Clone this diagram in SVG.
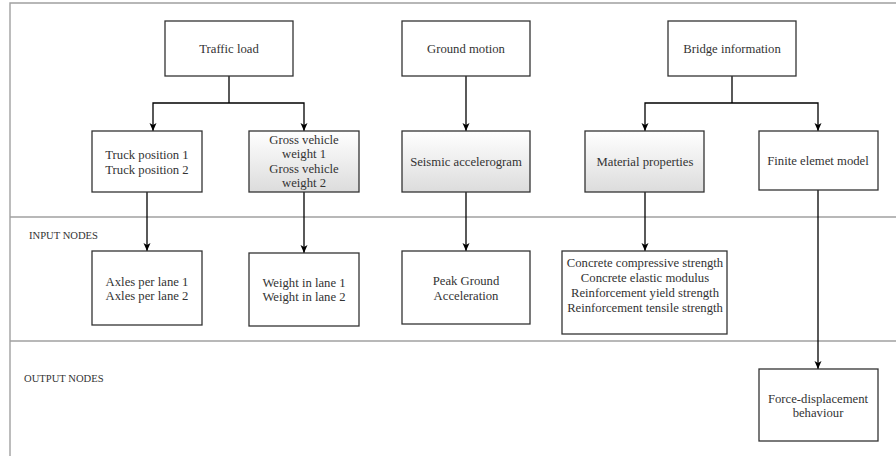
<svg xmlns="http://www.w3.org/2000/svg" width="896" height="456" viewBox="0 0 896 456">
<style>
.frame{fill:none;stroke:#a0a0a0;stroke-width:1.4}
.box{fill:#fff;stroke:#333;stroke-width:1.3}
.grad{fill:url(#g);stroke:#333;stroke-width:1.3}
.t{font-family:"Liberation Serif","Times New Roman",serif;font-size:12.7px;fill:#333;text-anchor:middle}
.lbl{font-family:"Liberation Serif","Times New Roman",serif;font-size:10.6px;fill:#333}
.c{fill:none;stroke:#000;stroke-width:1.3;marker-end:url(#a)}
.cn{fill:none;stroke:#000;stroke-width:1.3}
</style>
<defs>
<linearGradient id="g" x1="0" y1="0" x2="0" y2="1">
<stop offset="0" stop-color="#ffffff"/>
<stop offset="1" stop-color="#dcdcdc"/>
</linearGradient>
<marker id="a" markerUnits="userSpaceOnUse" markerWidth="10" markerHeight="10" viewBox="0 0 10 10" refX="9" refY="5" orient="auto">
<path d="M1,1.5 L9,5 L1,8.5 L3,5 Z" fill="#000"/>
</marker>
</defs>
<rect width="896" height="456" fill="#fff"/>
<g id="lanes">
<path class="frame" d="M896,3 H10 V456"/>
<path class="frame" d="M10,217 H896"/>
<path class="frame" d="M10,341 H896"/>
<text class="lbl" x="29" y="239">INPUT NODES</text>
<text class="lbl" x="24" y="382">OUTPUT NODES</text>
</g>
<g id="connectors">
<path class="cn" d="M229,76 V103"/>
<path class="c" d="M229,103 H153 V131"/>
<path class="c" d="M229,103 H304 V131"/>
<path class="c" d="M466,76 V131"/>
<path class="cn" d="M732,76 V103"/>
<path class="c" d="M732,103 H645 V131"/>
<path class="c" d="M732,103 H818 V131"/>
<path class="c" d="M147,192 V251"/>
<path class="c" d="M304,192 V253"/>
<path class="c" d="M466,192 V251"/>
<path class="c" d="M645,192 V251"/>
<path class="c" d="M818,190 V369"/>
</g>
<g id="traffic-load"><rect class="box" x="165" y="21" width="128" height="55"/><text class="t" x="229" y="53">Traffic load</text></g>
<g id="ground-motion"><rect class="box" x="402" y="21" width="128" height="55"/><text class="t" x="466" y="53">Ground motion</text></g>
<g id="bridge-information"><rect class="box" x="668" y="21" width="128" height="55"/><text class="t" x="732" y="53">Bridge information</text></g>
<g id="truck-position"><rect class="box" x="92" y="131" width="110" height="61"/><text class="t" x="147" y="159">Truck position 1</text><text class="t" x="147" y="173.5">Truck position 2</text></g>
<g id="gross-vehicle-weight"><rect class="grad" x="249" y="131" width="110" height="61"/><text class="t" x="304" y="143.5">Gross vehicle</text><text class="t" x="304" y="158">weight 1</text><text class="t" x="304" y="172.5">Gross vehicle</text><text class="t" x="304" y="187">weight 2</text></g>
<g id="seismic-accelerogram"><rect class="grad" x="402" y="131" width="128" height="61"/><text class="t" x="466" y="166">Seismic accelerogram</text></g>
<g id="material-properties"><rect class="grad" x="585" y="131" width="119" height="61"/><text class="t" x="645" y="166">Material properties</text></g>
<g id="finite-element-model"><rect class="box" x="759" y="131" width="119" height="59"/><text class="t" x="818" y="165">Finite elemet model</text></g>
<g id="axles-per-lane"><rect class="box" x="92" y="251" width="110" height="74"/><text class="t" x="147" y="285.5">Axles per lane 1</text><text class="t" x="147" y="300">Axles per lane 2</text></g>
<g id="weight-in-lane"><rect class="box" x="249" y="253" width="110" height="73"/><text class="t" x="304" y="286.5">Weight in lane 1</text><text class="t" x="304" y="301">Weight in lane 2</text></g>
<g id="peak-ground-acceleration"><rect class="box" x="402" y="251" width="128" height="73"/><text class="t" x="466" y="285">Peak Ground</text><text class="t" x="466" y="299.5">Acceleration</text></g>
<g id="concrete-properties"><rect class="box" x="562" y="251" width="165" height="83"/><text class="t" x="645" y="267">Concrete compressive strength</text><text class="t" x="645" y="282">Concrete elastic modulus</text><text class="t" x="645" y="296.5">Reinforcement yield strength</text><text class="t" x="645" y="311.5">Reinforcement tensile strength</text></g>
<g id="force-displacement"><rect class="box" x="759" y="369" width="119" height="72"/><text class="t" x="818" y="403">Force-displacement</text><text class="t" x="818" y="417">behaviour</text></g>
</svg>
